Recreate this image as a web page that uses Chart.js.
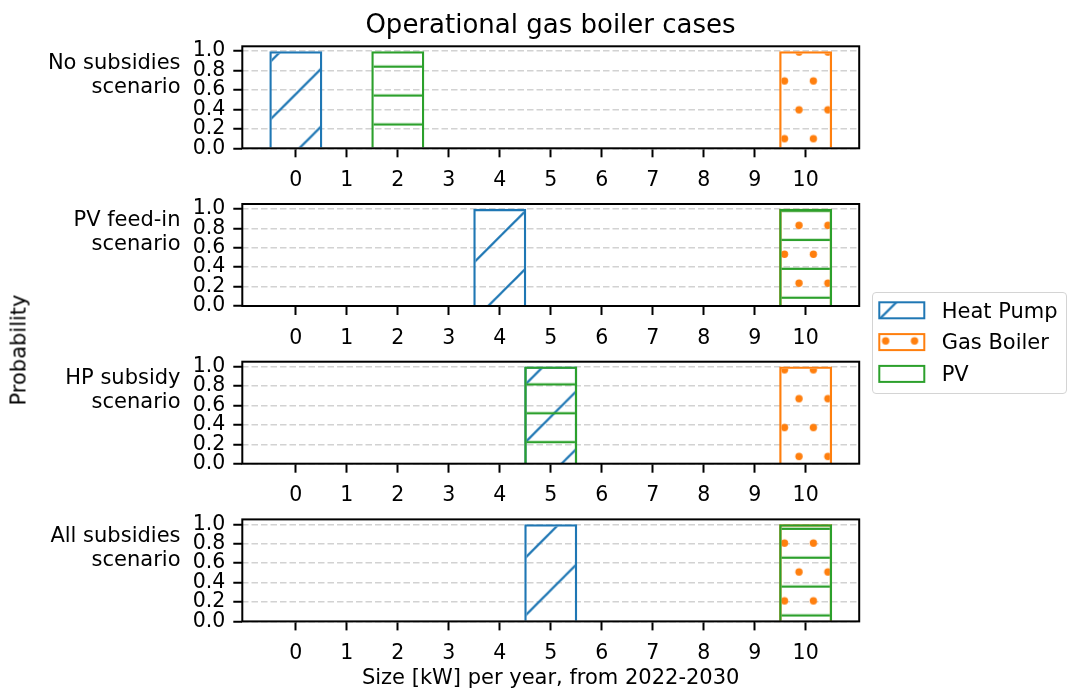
<!DOCTYPE html>
<html>
<head>
<meta charset="utf-8">
<title>Operational gas boiler cases</title>
<script src="https://cdn.jsdelivr.net/npm/chart.js@4.4.0/dist/chart.umd.min.js"></script>
<style>
  html, body { margin: 0; padding: 0; background: #fff; }
  body { width: 1068px; height: 691px; position: relative; overflow: hidden;
         font-family: 'DejaVu Sans', sans-serif; color: #000; }
  canvas.panel { position: absolute; left: 0; }
  .txt { position: absolute; white-space: nowrap; line-height: 1; }
  #legend { position: absolute; box-sizing: border-box; border: 1.4px solid #d4d4d4;
            border-radius: 4px; background: rgba(255,255,255,0.8); }
  #legendSwatches { position: absolute; }
</style>
</head>
<body>
<script>
// ---- data -------------------------------------------------------------
const sizes = [0, 1, 2, 3, 4, 5, 6, 7, 8, 9, 10];
const yTicks = [0, 0.2, 0.4, 0.6, 0.8, 1.0];
const seriesNames = ['Heat Pump', 'Gas Boiler', 'PV'];
const scenarioLabels = [
  ['No subsidies', 'scenario'],
  ['PV feed-in', 'scenario'],
  ['HP subsidy', 'scenario'],
  ['All subsidies', 'scenario']
];

// probability of each size, per scenario
const heatPumpNoSubsidies  = [1, 0, 0, 0, 0, 0, 0, 0, 0, 0, 0];
const gasBoilerNoSubsidies = [0, 0, 0, 0, 0, 0, 0, 0, 0, 0, 1];
const pvNoSubsidies        = [0, 0, 1, 0, 0, 0, 0, 0, 0, 0, 0];

const heatPumpFeedIn  = [0, 0, 0, 0, 1, 0, 0, 0, 0, 0, 0];
const gasBoilerFeedIn = [0, 0, 0, 0, 0, 0, 0, 0, 0, 0, 1];
const pvFeedIn        = [0, 0, 0, 0, 0, 0, 0, 0, 0, 0, 1];

const heatPumpHpSubsidy  = [0, 0, 0, 0, 0, 1, 0, 0, 0, 0, 0];
const gasBoilerHpSubsidy = [0, 0, 0, 0, 0, 0, 0, 0, 0, 0, 1];
const pvHpSubsidy        = [0, 0, 0, 0, 0, 1, 0, 0, 0, 0, 0];

const heatPumpAllSubsidies  = [0, 0, 0, 0, 0, 1, 0, 0, 0, 0, 0];
const gasBoilerAllSubsidies = [0, 0, 0, 0, 0, 0, 0, 0, 0, 0, 1];
const pvAllSubsidies        = [0, 0, 0, 0, 0, 0, 0, 0, 0, 0, 1];

const titleText = 'Operational gas boiler cases';
const xLabelText = 'Size [kW] per year, from 2022-2030';
const yLabelText = 'Probability';

// ---- layout & style ---------------------------------------------------
const W = 1068;
const PLOT_L = 242.3, PLOT_R = 859.2, PLOT_H = 102;
const panelTops = [46.3, 204.0, 361.7, 519.4];
const PAD_TOP = 30, XAXIS_H = 46;
const BLUE = '#1f77b4', ORANGE = '#ff7f0e', GREEN = '#2ca02c';
const GRID = '#d2d2d2';
const FONT = "'DejaVu Sans', sans-serif";
const TICK_PX = 20.5, LABEL_PX = 21, TITLE_PX = 26;

// hatch tiles: drawn on a 58px tile, then scaled so one repeat spans
// HATCH_PERIOD page pixels; all hatches share the page origin.
const TILE = 58;
const HATCH_PERIOD = 57.77;
const HS = HATCH_PERIOD / TILE;
const wrap = (v) => (((v / HS) % TILE) + TILE) % TILE;   // page px -> tile px

function makeTile(kind, color) {
  const c = document.createElement('canvas');
  c.width = TILE; c.height = TILE;
  const g = c.getContext('2d');
  g.strokeStyle = color; g.fillStyle = color; g.lineWidth = 2.2;
  if (kind === 'diag') {
    const c0 = wrap(332);                     // lines x + y = const
    for (let s = c0 - TILE; s <= c0 + 2 * TILE; s += TILE) {
      g.beginPath(); g.moveTo(s + 12, -12); g.lineTo(-12, s + 12); g.stroke();
    }
  } else if (kind === 'dots') {
    const ax = wrap(799), ay = wrap(225.3);
    const bx = wrap(784.5), by = wrap(254.3);
    const pts = [[ax, ay], [ax + TILE / 2, ay], [bx, by], [bx + TILE / 2, by]];
    for (const [x, y] of pts)
      for (const dx of [-TILE, 0, TILE])
        for (const dy of [-TILE, 0, TILE]) {
          g.beginPath(); g.arc(x + dx, y + dy, 3.7, 0, Math.PI * 2); g.fill();
        }
  } else {
    const y0 = wrap(66.7);
    for (const y of [y0 - TILE / 2, y0, y0 + TILE / 2, y0 + TILE]) {
      g.beginPath(); g.moveTo(-2, y); g.lineTo(TILE + 2, y); g.stroke();
    }
  }
  return c;
}
const tiles = {
  hp: makeTile('diag', BLUE),
  gb: makeTile('dots', ORANGE),
  pv: makeTile('hlines', GREEN)
};
function pagePattern(ctx, tile, offX, offY) {
  const p = ctx.createPattern(tile, 'repeat');
  p.setTransform(new DOMMatrix().translate(-offX, -offY).scale(HS));
  return p;
}

function addText(text, opts) {
  const d = document.createElement('div');
  d.className = 'txt';
  d.textContent = text;
  d.style.fontSize = opts.size + 'px';
  // baseline of DejaVu Sans sits 0.846em below the top of a 1em line box
  d.style.top = (opts.baseline - 0.846 * opts.size) + 'px';
  if (opts.right !== undefined) {
    d.style.right = (W - opts.right) + 'px';
  } else if (opts.center !== undefined) {
    d.style.left = opts.center + 'px';
    d.style.transform = 'translateX(-50%)';
  } else {
    d.style.left = opts.left + 'px';
  }
  document.body.appendChild(d);
  return d;
}

// ---- panels -------------------------------------------------------------
Chart.defaults.font.family = FONT;
Chart.defaults.color = '#000';

const framePlugin = {
  id: 'frame',
  afterDatasetsDraw(chart) {
    const { ctx, chartArea: a } = chart;
    ctx.save();
    ctx.strokeStyle = '#000';
    ctx.lineWidth = 2;
    ctx.strokeRect(a.left, a.top, a.right - a.left, a.bottom - a.top);
    ctx.restore();
  }
};

function points(values) {
  return sizes.map((x, i) => ({ x: x, y: values[i] }));
}

function buildPanel(idx, hp, gb, pv) {
  const plotTop = panelTops[idx];
  const canvasTop = Math.floor(plotTop - PAD_TOP);
  const padTop = plotTop - canvasTop;
  const canvas = document.createElement('canvas');
  canvas.className = 'panel';
  canvas.width = W;
  canvas.height = Math.ceil(padTop + PLOT_H + XAXIS_H);
  canvas.style.top = canvasTop + 'px';
  document.body.appendChild(canvas);
  const ctx = canvas.getContext('2d');

  const common = {
    borderWidth: 2.3, grouped: false, barPercentage: 53 / 51, categoryPercentage: 1,
    inflateAmount: 0
  };
  const datasets = [
    Object.assign({ label: seriesNames[0], data: points(hp), order: 3,
      backgroundColor: pagePattern(ctx, tiles.hp, 0, canvasTop), borderColor: BLUE }, common),
    Object.assign({ label: seriesNames[1], data: points(gb), order: 2,
      backgroundColor: pagePattern(ctx, tiles.gb, 0, canvasTop), borderColor: ORANGE }, common),
    Object.assign({ label: seriesNames[2], data: points(pv), order: 1,
      backgroundColor: pagePattern(ctx, tiles.pv, 0, canvasTop), borderColor: GREEN }, common)
  ];

  new Chart(ctx, {
    type: 'bar',
    data: { datasets },
    options: {
      responsive: false,
      animation: false,
      layout: { padding: { left: 0, top: padTop, right: W - PLOT_R, bottom: canvas.height - padTop - PLOT_H - XAXIS_H } },
      plugins: { legend: { display: false }, tooltip: { enabled: false }, title: { display: false } },
      scales: {
        x: {
          type: 'linear', min: -1.05, max: 11.05, offset: false,
          afterBuildTicks: (s) => { s.ticks = sizes.map(v => ({ value: v })); },
          afterFit: (s) => { s.height = XAXIS_H; },
          grid: { offset: false, drawOnChartArea: false, drawTicks: true, tickLength: 9,
                  tickColor: '#000', tickWidth: 2, tickBorderDash: [] },
          border: { display: false },
          ticks: { font: { size: TICK_PX }, color: '#000', padding: 11, autoSkip: false,
                   maxRotation: 0, minRotation: 0, callback: (v) => String(v) }
        },
        y: {
          type: 'linear', min: 0, max: 1.05,
          afterBuildTicks: (s) => { s.ticks = yTicks.map(v => ({ value: v })); },
          afterFit: (s) => { s.width = PLOT_L; },
          grid: { color: GRID, lineWidth: 1.5, drawTicks: true, tickLength: 9,
                  tickColor: '#000', tickWidth: 2, tickBorderDash: [] },
          border: { display: false, dash: [6.5, 3] },
          ticks: { font: { size: TICK_PX }, color: '#000', padding: 8, autoSkip: false,
                   callback: (v) => Number(v).toFixed(1) }
        }
      }
    },
    plugins: [framePlugin]
  });

  const mid = plotTop + PLOT_H / 2;
  addText(scenarioLabels[idx][0], { size: LABEL_PX, baseline: mid - 28, right: 180.5 });
  addText(scenarioLabels[idx][1], { size: LABEL_PX, baseline: mid - 4, right: 180.5 });
}

buildPanel(0, heatPumpNoSubsidies, gasBoilerNoSubsidies, pvNoSubsidies);
buildPanel(1, heatPumpFeedIn, gasBoilerFeedIn, pvFeedIn);
buildPanel(2, heatPumpHpSubsidy, gasBoilerHpSubsidy, pvHpSubsidy);
buildPanel(3, heatPumpAllSubsidies, gasBoilerAllSubsidies, pvAllSubsidies);

// ---- figure texts -------------------------------------------------------
addText(titleText, { size: TITLE_PX, baseline: 33.3, center: 550.5 });
addText(xLabelText, { size: LABEL_PX, baseline: 685, center: 550.7 });
const yl = document.createElement('div');
yl.className = 'txt';
yl.textContent = yLabelText;
yl.style.fontSize = LABEL_PX + 'px';
yl.style.left = '18.7px';
yl.style.top = '350px';
yl.style.transform = 'translate(-50%, -50%) rotate(-90deg)';
document.body.appendChild(yl);

// ---- legend -------------------------------------------------------------
const LEG = { left: 871.7, top: 291.7, width: 195, height: 102.6 };
const legendBox = document.createElement('div');
legendBox.id = 'legend';
Object.assign(legendBox.style, {
  left: LEG.left + 'px', top: LEG.top + 'px', width: LEG.width + 'px', height: LEG.height + 'px'
});
document.body.appendChild(legendBox);

const sw = document.createElement('canvas');
sw.id = 'legendSwatches';
const SW_X = 860, SW_Y = 290;
sw.width = 80; sw.height = 110;
sw.style.left = SW_X + 'px'; sw.style.top = SW_Y + 'px';
document.body.appendChild(sw);
const sctx = sw.getContext('2d');
const rowTops = [302.3, 334.1, 365.9];
const legendItems = [
  { name: seriesNames[0], tile: tiles.hp, color: BLUE },
  { name: seriesNames[1], tile: tiles.gb, color: ORANGE },
  { name: seriesNames[2], tile: tiles.pv, color: GREEN }
];
legendItems.forEach((it, i) => {
  const x = 879.3 - SW_X, y = rowTops[i] - SW_Y, w = 45, h = 16;
  sctx.fillStyle = pagePattern(sctx, it.tile, SW_X, SW_Y);
  sctx.fillRect(x, y, w, h);
  sctx.strokeStyle = it.color;
  sctx.lineWidth = 2;
  sctx.strokeRect(x, y, w, h);
  addText(it.name, { size: LABEL_PX, baseline: rowTops[i] + 16, left: 941.7 });
});
</script>
</body>
</html>
